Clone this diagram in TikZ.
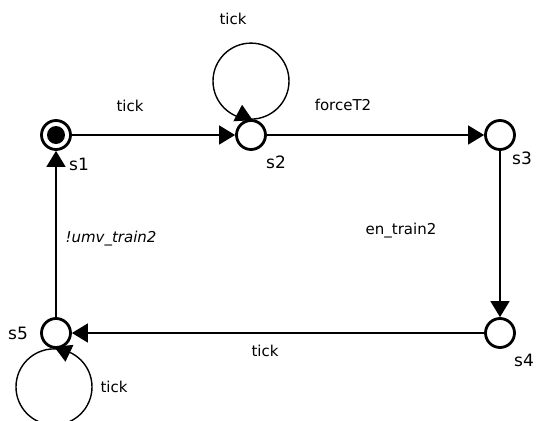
\documentclass[tikz,border=0pt]{standalone}
\usepackage{fontspec}
\setmainfont{DejaVu Sans}
\usetikzlibrary{arrows.meta}

\tikzset{
  state/.style={circle, draw, line width=2.8pt, minimum size=29pt, inner sep=0pt},
  edge/.style={line width=1.4pt, -{Triangle[length=16pt,width=19pt]}},
  looppath/.style={line width=1.4pt},
  loophead/.style={line width=1.4pt, -{Triangle[length=16pt,width=19pt]}},
  elabel/.style={font=\fontsize{15}{18}\selectfont, inner sep=0pt},
  slabel/.style={font=\fontsize{17}{20}\selectfont, inner sep=0pt},
}

\begin{document}
\begin{tikzpicture}[x=1pt, y=-1pt]
  \fill[white] (0,0) rectangle (539,421);
  \useasboundingbox (0,0) rectangle (539,421);

  % states
  \node[state] (s1) at (56,135) {};
  \node[state] (s2) at (251,135) {};
  \node[state] (s3) at (500,135) {};
  \node[state] (s4) at (500,333) {};
  \node[state] (s5) at (56,333) {};
  \fill (s1.center) circle[radius=9pt];

  % state names
  \node[slabel] (n1) at (79,164) {s1};
  \node[slabel] (n2) at (276,162) {s2};
  \node[slabel] (n3) at (522,158) {s3};
  \node[slabel] (n4) at (524,360) {s4};
  \node[slabel] (n5) at (18,333) {s5};

  % transitions
  \draw[edge] (s1) -- (s2);
  \draw[edge] (s2) -- (s3);
  \draw[edge] (s3) -- (s4);
  \draw[edge] (s4) -- (s5);
  \draw[edge] (s5) -- (s1);

  % self loops, each with its head sitting on the state
  \draw[looppath] ([yshift=38pt]s2.north) circle[radius=38pt];
  \draw[loophead] (s2.120) -- ++(-1,-16.5);
  \draw[looppath] ([xshift=-2pt,yshift=-38pt]s5.south) circle[radius=38pt];
  \draw[loophead] (s5.-60) -- ++(1.5,15);

  % transition labels
  \node[elabel] (t0) at (233,19) {tick};
  \node[elabel] (t1) at (130,106) {tick};
  \node[elabel] (t2) at (343,105) {forceT2};
  \node[elabel] (t3) at (401,231) {en\_train2};
  \node[elabel] (t4) at (265,351) {tick};
  \node[elabel] (t5) at (114,387) {tick};
  \node[elabel, font=\fontsize{15}{18}\selectfont\itshape] (t6) at (111,239) {!umv\_train2};
\end{tikzpicture}
\end{document}
